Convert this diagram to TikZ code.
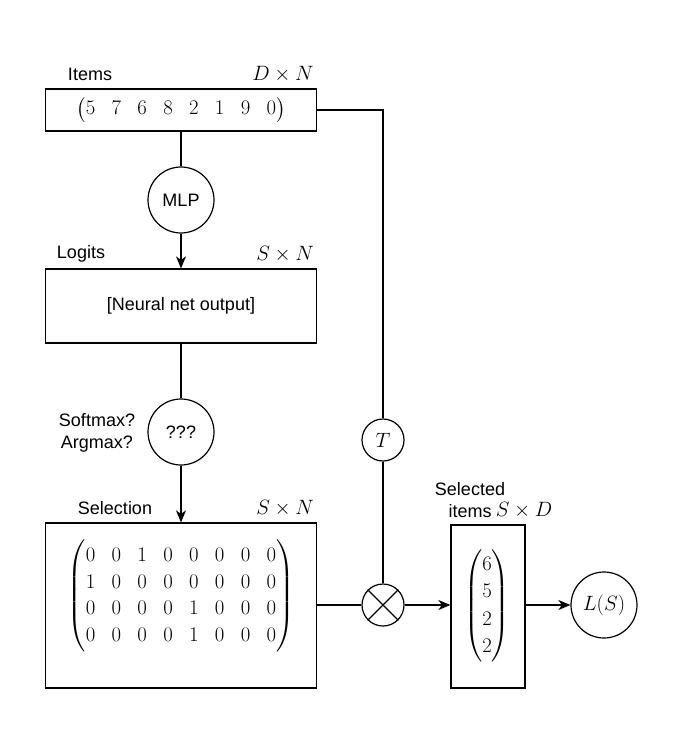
\documentclass[tikz,border=0pt]{standalone}
\usepackage{amsmath}
\usepackage{fontspec}
\newfontfamily\labelfont{Liberation Sans}
\usetikzlibrary{arrows.meta}
\begin{document}
\begin{tikzpicture}[x=1pt,y=-1pt,
  line width=1.2pt,
  every node/.style={font=\fontsize{20.74}{25}\selectfont},
  box/.style={draw, line width=1.2pt, inner sep=0pt},
  circ/.style={draw, circle, line width=1.2pt, inner sep=0pt, minimum size=66pt},
  smallcirc/.style={draw, circle, line width=1.2pt, inner sep=0pt, minimum size=42pt},
  lbl/.style={font=\labelfont\fontsize{18}{21.6}\selectfont, inner sep=0pt},
  mlbl/.style={inner sep=0pt},
  arr/.style={-{Stealth[length=12pt,width=10pt,inset=3.5pt]}}
]
\useasboundingbox (0,0) rectangle (684,735);

% boxes
\node[box, minimum width=271pt, minimum height=42pt] (items) at (181,110) {};
\node[box, minimum width=271pt, minimum height=74pt] (logits) at (181,306) {};
\node[box, minimum width=271pt, minimum height=165pt] (sel) at (181,605.5) {};
\node[box, minimum width=74pt, minimum height=163pt] (selitems) at (488,606.5) {};

% circles
\node[circ] (mlp) at (181,200) {\labelfont\fontsize{18}{21.6}\selectfont MLP};
\node[circ] (q) at (181,432) {\labelfont\fontsize{18}{21.6}\selectfont ???};
\node[smallcirc] (T) at (383,440) {$T$};
\node[smallcirc] (X) at (383,605) {};
\node[circ] (L) at (604,605) {$L(S)$};
\draw (X.north west) -- (X.south east);
\draw (X.north east) -- (X.south west);

% contents
\node[inner sep=0pt] (itemsvec) at (181,110) {\setlength{\arraycolsep}{8.17pt}$\begin{pmatrix}5&7&6&8&2&1&9&0\end{pmatrix}$};
\node[inner sep=0pt, font=\labelfont\fontsize{18}{21.6}\selectfont] (nno) at (181,306) {[Neural net output]};
\node[inner sep=0pt] (selmat) at (181,596) {\setlength{\arraycolsep}{8.17pt}\renewcommand{\arraystretch}{1.06}$\begin{pmatrix}
0&0&1&0&0&0&0&0\\
1&0&0&0&0&0&0&0\\
0&0&0&0&1&0&0&0\\
0&0&0&0&1&0&0&0
\end{pmatrix}$};
\node[inner sep=0pt] (selvec) at (487,606) {\renewcommand{\arraystretch}{1.09}$\begin{pmatrix}6\\5\\2\\2\end{pmatrix}$};

% labels
\node[lbl] (litems) at (90,74) {Items};
\node[mlbl] (ditems) at (283,74) {$D\times N$};
\node[lbl] (llogits) at (81,254) {Logits};
\node[mlbl] (dlogits) at (285,254) {$S\times N$};
\node[lbl] (lsel) at (115,508) {Selection};
\node[mlbl] (dsel) at (285,508) {$S\times N$};
\node[lbl, align=center] (lsm) at (97,433) {Softmax?\\Argmax?};
\node[lbl, align=center] (lselitems) at (470,500) {Selected\\items};
\node[mlbl] (dselitems) at (524,510) {$S\times D$};

% connectors
\draw (items.south) -- (mlp.north);
\draw[arr] (mlp.south) -- (logits.north);
\draw (logits.south) -- (q.north);
\draw[arr] (q.south) -- (sel.north);
\draw (items.east) -| (T.north);
\draw (T.south) -- (X.north);
\draw (sel.east |- X.west) -- (X.west);
\draw[arr] (X.east) -- (selitems.west |- X.east);
\draw[arr] (selitems.east |- L.west) -- (L.west);
\end{tikzpicture}
\end{document}
